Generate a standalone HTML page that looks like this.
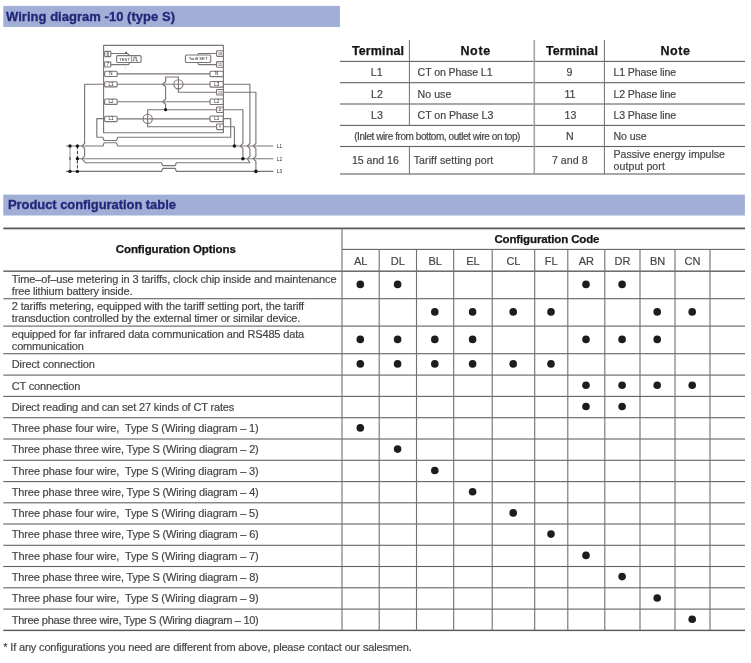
<!DOCTYPE html>
<html><head><meta charset="utf-8"><title>Wiring diagram</title>
<style>
html,body{margin:0;padding:0;background:#fff;}
body{will-change:transform;width:751px;height:663px;position:relative;overflow:hidden;font-family:"Liberation Sans",sans-serif;color:#403e3e;}
.bar{position:absolute;background:#a1aed5;color:#23277a;-webkit-text-stroke:0.3px #23277a;font-weight:bold;font-size:13px;white-space:nowrap;}
.bar span{position:absolute;}
.hl{position:absolute;height:1px;background:#8a8686;}
.vl{position:absolute;width:1px;background:#8a8686;}
#tx{position:absolute;left:0;top:0;width:751px;height:663px;}
.t{position:absolute;white-space:pre;font-size:11px;-webkit-text-stroke:0.18px #4a4747;color:#454242;}
.b{font-weight:bold;color:#151313;-webkit-text-stroke:0.25px #151313;}
</style></head><body>

<svg style="position:absolute;left:0;top:0;" width="751" height="663" viewBox="0 0 751 663"><rect x="3.3" y="5.9" width="336.6" height="21.1" fill="#a1aed5"/><rect x="3.3" y="194.6" width="741.6" height="20.9" fill="#a1aed5"/></svg>
<div class="bar" style="background:none;left:3px;top:6px;width:337px;height:21px;"><span style="left:3px;top:3.2px;letter-spacing:0.03px;">Wiring diagram -10 (type S)</span></div>
<div class="bar" style="background:none;left:3px;top:195px;width:742px;height:21px;"><span style="left:5px;top:2.2px;letter-spacing:-0.07px;">Product configuration table</span></div>
<svg style="position:absolute;left:0;top:0;" width="751" height="663" viewBox="0 0 751 663"><rect x="340.00" y="60.85" width="405.00" height="1.10" fill="#686060"/><rect x="340.00" y="82.15" width="405.00" height="1.10" fill="#686060"/><rect x="340.00" y="103.45" width="405.00" height="1.10" fill="#686060"/><rect x="340.00" y="124.85" width="405.00" height="1.10" fill="#686060"/><rect x="340.00" y="145.95" width="405.00" height="1.10" fill="#686060"/><rect x="340.00" y="173.45" width="405.00" height="1.10" fill="#686060"/><rect x="408.90" y="40.00" width="1.00" height="85.40" fill="#746e6e"/><rect x="408.90" y="146.50" width="1.00" height="27.50" fill="#746e6e"/><rect x="533.55" y="40.00" width="1.50" height="134.00" fill="#a29e9e"/><rect x="603.90" y="40.00" width="1.00" height="134.00" fill="#746e6e"/><rect x="3.30" y="227.50" width="741.70" height="1.80" fill="#5e5858"/><rect x="342.00" y="248.85" width="403.00" height="1.10" fill="#686060"/><rect x="3.30" y="270.45" width="741.70" height="1.50" fill="#6c6666"/><rect x="3.30" y="298.15" width="741.70" height="1.10" fill="#686060"/><rect x="3.30" y="325.55" width="741.70" height="1.10" fill="#686060"/><rect x="3.30" y="353.15" width="741.70" height="1.10" fill="#686060"/><rect x="3.30" y="374.55" width="741.70" height="1.10" fill="#686060"/><rect x="3.30" y="395.85" width="741.70" height="1.10" fill="#686060"/><rect x="3.30" y="417.15" width="741.70" height="1.10" fill="#686060"/><rect x="3.30" y="438.45" width="741.70" height="1.10" fill="#686060"/><rect x="3.30" y="459.75" width="741.70" height="1.10" fill="#686060"/><rect x="3.30" y="481.05" width="741.70" height="1.10" fill="#686060"/><rect x="3.30" y="502.25" width="741.70" height="1.10" fill="#686060"/><rect x="3.30" y="523.45" width="741.70" height="1.10" fill="#686060"/><rect x="3.30" y="544.75" width="741.70" height="1.10" fill="#686060"/><rect x="3.30" y="565.95" width="741.70" height="1.10" fill="#686060"/><rect x="3.30" y="587.25" width="741.70" height="1.10" fill="#686060"/><rect x="3.30" y="608.55" width="741.70" height="1.10" fill="#686060"/><rect x="3.30" y="629.70" width="741.70" height="1.40" fill="#5a5454"/><rect x="341.45" y="228.40" width="1.10" height="402.00" fill="#746e6e"/><rect x="378.65" y="249.40" width="1.10" height="381.00" fill="#746e6e"/><rect x="415.95" y="249.40" width="1.10" height="381.00" fill="#746e6e"/><rect x="453.15" y="249.40" width="1.10" height="381.00" fill="#746e6e"/><rect x="491.65" y="249.40" width="1.10" height="381.00" fill="#746e6e"/><rect x="534.15" y="249.40" width="1.10" height="381.00" fill="#746e6e"/><rect x="567.25" y="249.40" width="1.10" height="381.00" fill="#746e6e"/><rect x="604.25" y="249.40" width="1.10" height="381.00" fill="#746e6e"/><rect x="639.45" y="249.40" width="1.10" height="381.00" fill="#746e6e"/><rect x="674.45" y="249.40" width="1.10" height="381.00" fill="#746e6e"/><rect x="709.45" y="249.40" width="1.10" height="381.00" fill="#746e6e"/></svg>
<div id="tx">
<div class="t" style="left:11.8px;top:272.5px;font-size:11px;line-height:13.2px;letter-spacing:-0.126px;">Time–of–use metering in 3 tariffs, clock chip inside and maintenance</div>
<div class="t" style="left:11.8px;top:284.9px;font-size:11px;line-height:13.2px;letter-spacing:-0.169px;">free lithium battery inside.</div>
<div class="t" style="left:11.8px;top:300.0px;font-size:11px;line-height:13.2px;letter-spacing:-0.134px;">2 tariffs metering, equipped with the tariff setting port, the tariff</div>
<div class="t" style="left:11.8px;top:312.4px;font-size:11px;line-height:13.2px;letter-spacing:-0.165px;">transduction controlled by the external timer or similar device.</div>
<div class="t" style="left:11.8px;top:327.5px;font-size:11px;line-height:13.2px;letter-spacing:-0.157px;">equipped for far infrared data communication and RS485 data</div>
<div class="t" style="left:11.8px;top:339.9px;font-size:11px;line-height:13.2px;letter-spacing:-0.168px;">communication</div>
<div class="t" style="left:11.8px;top:358.1px;font-size:11px;line-height:13.2px;letter-spacing:-0.121px;">Direct connection</div>
<div class="t" style="left:11.8px;top:379.5px;font-size:11px;line-height:13.2px;letter-spacing:-0.180px;">CT connection</div>
<div class="t" style="left:11.8px;top:400.8px;font-size:11px;line-height:13.2px;letter-spacing:-0.157px;">Direct reading and can set 27 kinds of CT rates</div>
<div class="t" style="left:11.8px;top:422.1px;font-size:11px;line-height:13.2px;letter-spacing:-0.119px;">Three phase four wire,  Type S (Wiring diagram – 1)</div>
<div class="t" style="left:11.8px;top:443.4px;font-size:11px;line-height:13.2px;letter-spacing:-0.180px;">Three phase three wire, Type S (Wiring diagram – 2)</div>
<div class="t" style="left:11.8px;top:464.7px;font-size:11px;line-height:13.2px;letter-spacing:-0.119px;">Three phase four wire,  Type S (Wiring diagram – 3)</div>
<div class="t" style="left:11.8px;top:486.0px;font-size:11px;line-height:13.2px;letter-spacing:-0.180px;">Three phase three wire, Type S (Wiring diagram – 4)</div>
<div class="t" style="left:11.8px;top:507.1px;font-size:11px;line-height:13.2px;letter-spacing:-0.119px;">Three phase four wire,  Type S (Wiring diagram – 5)</div>
<div class="t" style="left:11.8px;top:528.4px;font-size:11px;line-height:13.2px;letter-spacing:-0.180px;">Three phase three wire, Type S (Wiring diagram – 6)</div>
<div class="t" style="left:11.8px;top:549.6px;font-size:11px;line-height:13.2px;letter-spacing:-0.119px;">Three phase four wire,  Type S (Wiring diagram – 7)</div>
<div class="t" style="left:11.8px;top:570.9px;font-size:11px;line-height:13.2px;letter-spacing:-0.180px;">Three phase three wire, Type S (Wiring diagram – 8)</div>
<div class="t" style="left:11.8px;top:592.2px;font-size:11px;line-height:13.2px;letter-spacing:-0.119px;">Three phase four wire,  Type S (Wiring diagram – 9)</div>
<div class="t" style="left:11.8px;top:613.5px;font-size:11px;line-height:13.2px;letter-spacing:-0.297px;">Three phase three wire, Type S (Wiring diagram – 10)</div>
<div class="t" style="left:353.9px;top:254.9px;font-size:11px;line-height:13.2px;letter-spacing:0.000px;">AL</div>
<div class="t" style="left:390.8px;top:254.9px;font-size:11px;line-height:13.2px;letter-spacing:0.000px;">DL</div>
<div class="t" style="left:428.4px;top:254.9px;font-size:11px;line-height:13.2px;letter-spacing:0.000px;">BL</div>
<div class="t" style="left:466.2px;top:254.9px;font-size:11px;line-height:13.2px;letter-spacing:0.000px;">EL</div>
<div class="t" style="left:506.4px;top:254.9px;font-size:11px;line-height:13.2px;letter-spacing:0.000px;">CL</div>
<div class="t" style="left:544.8px;top:254.9px;font-size:11px;line-height:13.2px;letter-spacing:0.000px;">FL</div>
<div class="t" style="left:578.7px;top:254.9px;font-size:11px;line-height:13.2px;letter-spacing:0.000px;">AR</div>
<div class="t" style="left:614.5px;top:254.9px;font-size:11px;line-height:13.2px;letter-spacing:0.000px;">DR</div>
<div class="t" style="left:649.9px;top:254.9px;font-size:11px;line-height:13.2px;letter-spacing:0.000px;">BN</div>
<div class="t" style="left:684.6px;top:254.9px;font-size:11px;line-height:13.2px;letter-spacing:0.000px;">CN</div>
<div class="t b" style="left:115.8px;top:243.3px;font-size:11.5px;line-height:13.8px;letter-spacing:-0.101px;">Configuration Options</div>
<div class="t b" style="left:494.4px;top:232.9px;font-size:11.5px;line-height:13.8px;letter-spacing:-0.131px;">Configuration Code</div>
<div class="t" style="left:3.3px;top:640.6px;font-size:11px;line-height:13.2px;letter-spacing:-0.169px;">* If any configurations you need are different from above, please contact our salesmen.</div>
<div class="t b" style="left:351.9px;top:44.1px;font-size:12.5px;line-height:15.0px;letter-spacing:0.129px;">Terminal</div>
<div class="t b" style="left:460.4px;top:44.1px;font-size:12.5px;line-height:15.0px;letter-spacing:0.698px;">Note</div>
<div class="t b" style="left:546.0px;top:44.1px;font-size:12.5px;line-height:15.0px;letter-spacing:0.100px;">Terminal</div>
<div class="t b" style="left:660.4px;top:44.1px;font-size:12.5px;line-height:15.0px;letter-spacing:0.631px;">Note</div>
<div class="t" style="left:370.8px;top:66.1px;font-size:10.6px;line-height:12.7px;letter-spacing:0.000px;">L1</div>
<div class="t" style="left:417.6px;top:66.1px;font-size:10.6px;line-height:12.7px;letter-spacing:-0.110px;">CT on Phase L1</div>
<div class="t" style="left:566.4px;top:66.1px;font-size:10.6px;line-height:12.7px;letter-spacing:0.000px;">9</div>
<div class="t" style="left:613.5px;top:66.1px;font-size:10.6px;line-height:12.7px;letter-spacing:-0.138px;">L1 Phase line</div>
<div class="t" style="left:371.0px;top:87.6px;font-size:10.6px;line-height:12.7px;letter-spacing:0.000px;">L2</div>
<div class="t" style="left:417.6px;top:87.6px;font-size:10.6px;line-height:12.7px;letter-spacing:0.033px;">No use</div>
<div class="t" style="left:564.5px;top:87.6px;font-size:10.6px;line-height:12.7px;letter-spacing:0.000px;">11</div>
<div class="t" style="left:613.5px;top:87.6px;font-size:10.6px;line-height:12.7px;letter-spacing:-0.138px;">L2 Phase line</div>
<div class="t" style="left:371.0px;top:108.8px;font-size:10.6px;line-height:12.7px;letter-spacing:0.000px;">L3</div>
<div class="t" style="left:417.6px;top:108.8px;font-size:10.6px;line-height:12.7px;letter-spacing:-0.049px;">CT on Phase L3</div>
<div class="t" style="left:564.5px;top:108.8px;font-size:10.6px;line-height:12.7px;letter-spacing:0.000px;">13</div>
<div class="t" style="left:613.5px;top:108.8px;font-size:10.6px;line-height:12.7px;letter-spacing:-0.138px;">L3 Phase line</div>
<div class="t" style="left:354.2px;top:130.5px;font-size:10px;line-height:12.0px;letter-spacing:-0.426px;">(Inlet wire from bottom, outlet wire on top)</div>
<div class="t" style="left:566.0px;top:130.2px;font-size:10.6px;line-height:12.7px;letter-spacing:0.000px;">N</div>
<div class="t" style="left:613.5px;top:130.2px;font-size:10.6px;line-height:12.7px;letter-spacing:-0.087px;">No use</div>
<div class="t" style="left:351.9px;top:154.3px;font-size:10.6px;line-height:12.7px;letter-spacing:-0.025px;">15 and 16</div>
<div class="t" style="left:413.7px;top:154.3px;font-size:10.6px;line-height:12.7px;letter-spacing:0.084px;">Tariff setting port</div>
<div class="t" style="left:551.9px;top:154.3px;font-size:10.6px;line-height:12.7px;letter-spacing:0.064px;">7 and 8</div>
<div class="t" style="left:613.5px;top:147.7px;font-size:10.6px;line-height:12.7px;letter-spacing:-0.021px;">Passive energy impulse</div>
<div class="t" style="left:613.5px;top:160.1px;font-size:10.6px;line-height:12.7px;letter-spacing:0.069px;">output port</div>
</div>
<svg style="position:absolute;left:0;top:0;" width="751" height="663" viewBox="0 0 751 663"><g fill="#1e1c1c"><circle cx="360.3" cy="284.4" r="3.8"/><circle cx="397.6" cy="284.4" r="3.8"/><circle cx="586.0" cy="284.4" r="3.8"/><circle cx="622.1" cy="284.4" r="3.8"/><circle cx="434.8" cy="311.9" r="3.8"/><circle cx="472.6" cy="311.9" r="3.8"/><circle cx="513.2" cy="311.9" r="3.8"/><circle cx="551.0" cy="311.9" r="3.8"/><circle cx="657.2" cy="311.9" r="3.8"/><circle cx="692.2" cy="311.9" r="3.8"/><circle cx="360.3" cy="339.4" r="3.8"/><circle cx="397.6" cy="339.4" r="3.8"/><circle cx="434.8" cy="339.4" r="3.8"/><circle cx="472.6" cy="339.4" r="3.8"/><circle cx="586.0" cy="339.4" r="3.8"/><circle cx="622.1" cy="339.4" r="3.8"/><circle cx="657.2" cy="339.4" r="3.8"/><circle cx="360.3" cy="363.9" r="3.8"/><circle cx="397.6" cy="363.9" r="3.8"/><circle cx="434.8" cy="363.9" r="3.8"/><circle cx="472.6" cy="363.9" r="3.8"/><circle cx="513.2" cy="363.9" r="3.8"/><circle cx="551.0" cy="363.9" r="3.8"/><circle cx="586.0" cy="385.2" r="3.8"/><circle cx="622.1" cy="385.2" r="3.8"/><circle cx="657.2" cy="385.2" r="3.8"/><circle cx="692.2" cy="385.2" r="3.8"/><circle cx="586.0" cy="406.5" r="3.8"/><circle cx="622.1" cy="406.5" r="3.8"/><circle cx="360.3" cy="427.9" r="3.8"/><circle cx="397.6" cy="449.1" r="3.8"/><circle cx="434.8" cy="470.5" r="3.8"/><circle cx="472.6" cy="491.7" r="3.8"/><circle cx="513.2" cy="512.9" r="3.8"/><circle cx="551.0" cy="534.1" r="3.8"/><circle cx="586.0" cy="555.4" r="3.8"/><circle cx="622.1" cy="576.6" r="3.8"/><circle cx="657.2" cy="598.0" r="3.8"/><circle cx="692.2" cy="619.2" r="3.8"/></g></svg>
<svg style="position:absolute;left:0;top:0;" width="340" height="190" viewBox="0 0 340 190">
<g fill="none" stroke="#7c7474" stroke-width="1.12" stroke-linejoin="round">
<!-- outer meter box -->
<path d="M103.6,132.8 V45.4 H223.4 V132.8 Z"/>
<!-- bus lines -->
<path d="M66,146 H103 L104,142.8 H116.6 L117.6,146 H273.3"/>
<path d="M76,158.8 H273.3"/>
<path d="M66,171.4 H161.6 L162.6,168.4 H175.3 L176.3,171.4 H273.3"/>
<!-- L1 loop -->
<path d="M103.6,118.6 H96.8 V137.3 H103 L104,140.5 H116.6 L117.6,137.3 H230.7 V118.6 H223.4"/>
<!-- L3 loop -->
<path d="M103.6,84.3 H84.6 V143.4 L82,146 L84.6,148.6 V156.2 L82,158.8 L85.4,162.7 H161.6 L162.6,165.6 H175.3 L176.3,162.7 H249.9 L247.4,158.8 L249.9,156.2 V148.6 L247.4,146 L249.9,143.4 V84.3 H223.4"/>
<!-- terminal 13 wire -->
<path d="M223.4,92.2 H255.9 V143.4 L253.4,146 L255.9,148.6 V156.2 L253.4,158.8 L255.9,161.4 V171.4"/>
<!-- terminal 11 wire -->
<path d="M223.4,109.7 H242.9 V143.4 L240.4,146 L242.9,148.6 V158.8"/>
<!-- terminal 9 wire -->
<path d="M223.4,126.7 H234.4 V146"/>
<!-- horizontal internals -->
<path d="M117.2,73.9 H210"/>
<path d="M117.2,84.3 H210"/>
<path d="M117.2,101.7 H210"/>
<path d="M117.2,118.9 H210"/>
<path d="M216.6,109.7 H147.7 V114.4"/>
<path d="M147.7,123.6 V126.8 H216.6"/>
<path d="M178.4,89 V92.3 H216.6"/>
<!-- bracket -->
<path d="M178.4,79.6 V77 H165.6 V81.8 L162.6,84.3 L165.6,86.8 V99.2 L162.6,101.7 L165.6,104.2 V109.7"/>
<!-- CT circles -->
<circle cx="178.4" cy="84.3" r="4.6"/>
<path d="M178.4,79.7 V89"/>
<circle cx="147.7" cy="118.9" r="4.6"/>
<path d="M147.7,114.3 V123.5"/>
<!-- left terminals -->
<rect x="104.6" y="51.4" width="6.2" height="5.2" rx="0.8"/>
<rect x="104.6" y="61.8" width="6.2" height="5.2" rx="0.8"/>
<rect x="104.6" y="71.3" width="12.6" height="5.2" rx="1"/>
<rect x="104.6" y="81.7" width="12.6" height="5.2" rx="1"/>
<rect x="104.6" y="99" width="12.6" height="5.4" rx="1"/>
<rect x="104.6" y="116.2" width="12.6" height="5.4" rx="1"/>
<!-- right terminals -->
<rect x="216.6" y="50.8" width="6.8" height="5.6" rx="0.8"/>
<rect x="216.6" y="61.6" width="6.8" height="5.6" rx="0.8"/>
<rect x="210" y="71.3" width="13.4" height="5.3" rx="1"/>
<rect x="210" y="81.5" width="13.4" height="5.6" rx="1"/>
<rect x="216.6" y="89.5" width="6.8" height="5.5" rx="0.8"/>
<rect x="210" y="99" width="13.4" height="5.5" rx="1"/>
<rect x="216.6" y="107" width="6.8" height="5.5" rx="0.8"/>
<rect x="210" y="116" width="13.4" height="5.6" rx="1"/>
<rect x="216.6" y="124" width="6.8" height="5.6" rx="0.8"/>
<!-- TEST box + leads -->
<rect x="116.6" y="55.6" width="24.5" height="6.9" rx="1.2"/>
<path d="M110.8,53.5 H127.5 L129.8,55.6"/>
<path d="M110.8,64.6 H128.6 L129.8,62.5"/>
<path d="M131.4,55.6 V62.5" stroke-width="0.8"/><path d="M132.6,60.8 H133.8 V57.2 H136.2 V60.8 H138.2" stroke-width="0.7" stroke="#3a3636"/>
<!-- Tariff SET box + leads -->
<rect x="185.4" y="55" width="25.3" height="7.5" rx="1.3"/>
<path d="M216.6,53.5 H198.6 L197.6,55"/>
<path d="M216.6,64.6 H198.6 L197.6,62.5"/>
<!-- thin vertical N -->
<path d="M70,146 V171.4" stroke-width="0.8"/>
<path d="M77.4,146 V171.4" stroke-width="1" stroke="#3a3636" stroke-dasharray="3.2,1.6"/>
</g>
<g fill="#1a1818" stroke="none">
<circle cx="165.6" cy="109.7" r="1.6"/>
<circle cx="234.4" cy="146" r="1.8"/>
<circle cx="242.9" cy="158.8" r="1.8"/>
<circle cx="255.9" cy="171.4" r="1.8"/>
<circle cx="70" cy="146" r="1.7"/>
<circle cx="77.4" cy="146" r="1.7"/>
<circle cx="77.4" cy="158.8" r="1.7"/>
<circle cx="70" cy="171.4" r="1.7"/>
<circle cx="77.4" cy="171.4" r="1.7"/>
<path d="M126,51.2 L127.4,53.4 L125.2,53 Z"/>
<circle cx="125.6" cy="67.8" r="0.35"/>
</g>
<g font-family="Liberation Sans, sans-serif" fill="#1c1a1a" font-size="4.5" text-anchor="middle">
<text x="107.7" y="55.5">8</text>
<text x="107.7" y="65.9">7</text>
<text x="110.9" y="75.4">N</text>
<text x="110.9" y="85.8">L3</text>
<text x="110.9" y="103.2">L2</text>
<text x="110.9" y="120.4">L1</text>
<text x="220" y="55.1" font-size="3.6">16</text>
<text x="220" y="65.9" font-size="3.6">15</text>
<text x="216.7" y="75.4">N</text>
<text x="216.7" y="85.8">L3</text>
<text x="220" y="93.7" font-size="3.6">13</text>
<text x="216.7" y="103.2">L2</text>
<text x="220" y="111.2" font-size="3.6">11</text>
<text x="216.7" y="120.4">L1</text>
<text x="220" y="128.3" font-size="3.6">9</text>
<text x="124.6" y="60.6" font-size="4.2">TEST</text>
<text x="198.2" y="60.4" font-size="4.3">Tariff SET</text>
<text x="279.4" y="147.8" font-size="4.6">L1</text>
<text x="279.4" y="160.6" font-size="4.6">L2</text>
<text x="279.4" y="173.2" font-size="4.6">L3</text>
<text x="70" y="160" font-size="3">N</text>
</g>
</svg>

</body></html>
